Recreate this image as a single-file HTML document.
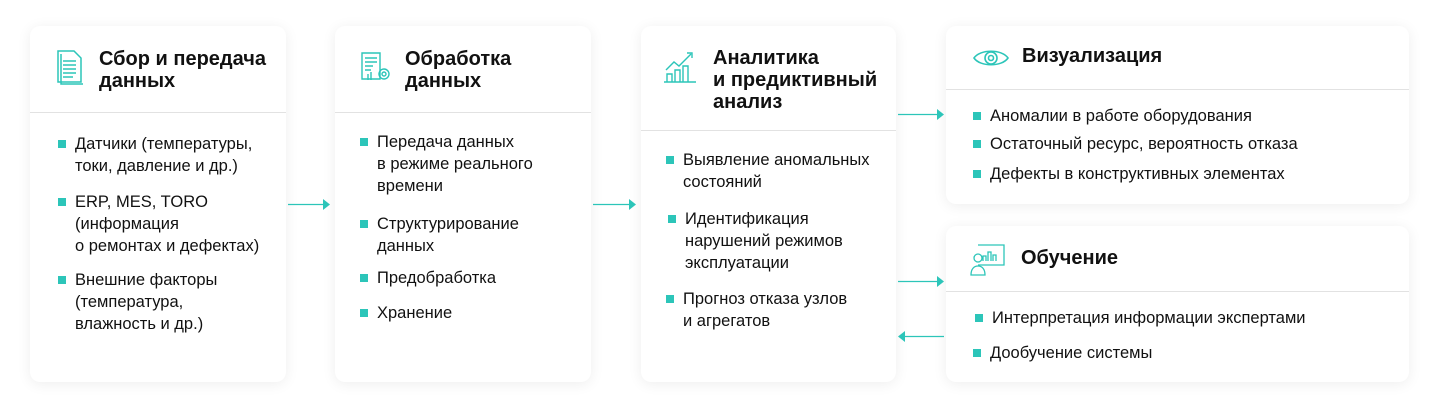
<!DOCTYPE html>
<html><head><meta charset="utf-8"><style>
body{margin:0;width:1437px;height:413px;background:#fff;position:relative;font-family:"Liberation Sans",sans-serif;color:#111;overflow:hidden}
.c{position:absolute;background:#fff;border-radius:10px;box-shadow:0 2px 14px rgba(0,0,0,0.07)}
.hr{position:absolute;left:0;right:0;height:1px;background:#e2e2e2}
.t{position:absolute;font-weight:bold;font-size:20px;line-height:22px;color:#111;white-space:nowrap}
.b{position:absolute;font-size:16.5px;line-height:22px;color:#111;white-space:nowrap}
.b:before{content:"";position:absolute;left:-17px;top:7px;width:8px;height:8px;background:#2cc5b9}
.ic{position:absolute}
</style></head><body>
<div class="c" style="left:30px;top:26px;width:256px;height:356px">
 <svg class="ic" style="left:26px;top:23px" width="32" height="36" viewBox="0 0 32 36" fill="none" stroke="#2cc5b9" stroke-width="1.5"><path d="M2 2h16l7 7v24H2z"/><path d="M5 5v30h22"/><path d="M7 12h13M7 16h13M7 20h13M7 24h13M7 28h10"/></svg>
 <div class="t" style="left:69px;top:22px">Сбор и передача<br>данных</div>
 <div class="hr" style="top:86px"></div>
 <div class="b" style="left:45px;top:107px">Датчики (температуры,<br>токи, давление и др.)</div>
 <div class="b" style="left:45px;top:165px">ERP, MES, TORO<br>(информация<br>о ремонтах и дефектах)</div>
 <div class="b" style="left:45px;top:243px">Внешние факторы<br>(температура,<br>влажность и др.)</div>
</div>
<div class="c" style="left:335px;top:26px;width:256px;height:356px">
 <svg class="ic" style="left:24px;top:24px" width="34" height="34" viewBox="0 0 34 34" fill="none" stroke="#2cc5b9" stroke-width="1.4"><path d="M3 3h18v26H3z"/><path d="M6 8h12M6 12h12M6 16h8M6 20h6"/><circle cx="25" cy="24" r="5"/><circle cx="25" cy="24" r="2"/><path d="M9 24v6M12 22v8"/></svg>
 <div class="t" style="left:70px;top:22px">Обработка<br>данных</div>
 <div class="hr" style="top:86px"></div>
 <div class="b" style="left:42px;top:105px">Передача данных<br>в режиме реального<br>времени</div>
 <div class="b" style="left:42px;top:187px">Структурирование<br>данных</div>
 <div class="b" style="left:42px;top:241px">Предобработка</div>
 <div class="b" style="left:42px;top:276px">Хранение</div>
</div>
<div class="c" style="left:641px;top:26px;width:255px;height:356px">
 <svg class="ic" style="left:22px;top:22px" width="34" height="36" viewBox="0 0 34 36" fill="none" stroke="#2cc5b9" stroke-width="1.4"><path d="M1 34h32"/><path d="M4 34v-8h5v8M12 34v-12h5v12M20 34v-16h5v16"/><path d="M3 22l8-8 5 4 12-12"/><path d="M24 5h5v5"/></svg>
 <div class="t" style="left:72px;top:21px">Аналитика<br>и предиктивный<br>анализ</div>
 <div class="hr" style="top:104px"></div>
 <div class="b" style="left:42px;top:123px">Выявление аномальных<br>состояний</div>
 <div class="b" style="left:44px;top:182px">Идентификация<br>нарушений режимов<br>эксплуатации</div>
 <div class="b" style="left:42px;top:262px">Прогноз отказа узлов<br>и агрегатов</div>
</div>
<div class="c" style="left:946px;top:26px;width:463px;height:178px">
 <svg class="ic" style="left:26px;top:20px" width="38" height="24" viewBox="0 0 38 24" fill="none" stroke="#2cc5b9" stroke-width="1.6"><path d="M2 12C8 3 30 3 36 12C30 21 8 21 2 12z"/><circle cx="19" cy="12" r="6"/><circle cx="19" cy="12" r="2.5"/></svg>
 <div class="t" style="left:76px;top:19px">Визуализация</div>
 <div class="hr" style="top:63px"></div>
 <div class="b" style="left:44px;top:79px">Аномалии в работе оборудования</div>
 <div class="b" style="left:44px;top:107px">Остаточный ресурс, вероятность отказа</div>
 <div class="b" style="left:44px;top:137px">Дефекты в конструктивных элементах</div>
</div>
<div class="c" style="left:946px;top:226px;width:463px;height:156px">
 <svg class="ic" style="left:24px;top:18px" width="36" height="32" viewBox="0 0 36 32" fill="none" stroke="#2cc5b9" stroke-width="1.3"><path d="M8 1h26v20H8"/><path d="M13 17v-5h3v5M18 17v-9h3v9M23 17v-6h3v6"/><circle cx="8" cy="14" r="4"/><path d="M1 31c0-6 3-9 7-9s7 3 7 9z"/></svg>
 <div class="t" style="left:75px;top:21px">Обучение</div>
 <div class="hr" style="top:65px"></div>
 <div class="b" style="left:46px;top:81px">Интерпретация информации экспертами</div>
 <div class="b" style="left:44px;top:116px">Дообучение системы</div>
</div>
<svg style="position:absolute;left:0;top:0" width="1437" height="413" fill="#2cc5b9" stroke="#2cc5b9" stroke-width="1.3">
 <path d="M288 204.5h36"/><path d="M323 199l7 5.5-7 5.5z" stroke="none"/>
 <path d="M593 204.5h37"/><path d="M629 199l7 5.5-7 5.5z" stroke="none"/>
 <path d="M898 114.5h40"/><path d="M937 109l7 5.5-7 5.5z" stroke="none"/>
 <path d="M898 281.5h40"/><path d="M937 276l7 5.5-7 5.5z" stroke="none"/>
 <path d="M904 336.5h40"/><path d="M905 331l-7 5.5 7 5.5z" stroke="none"/>
</svg>
</body></html>
